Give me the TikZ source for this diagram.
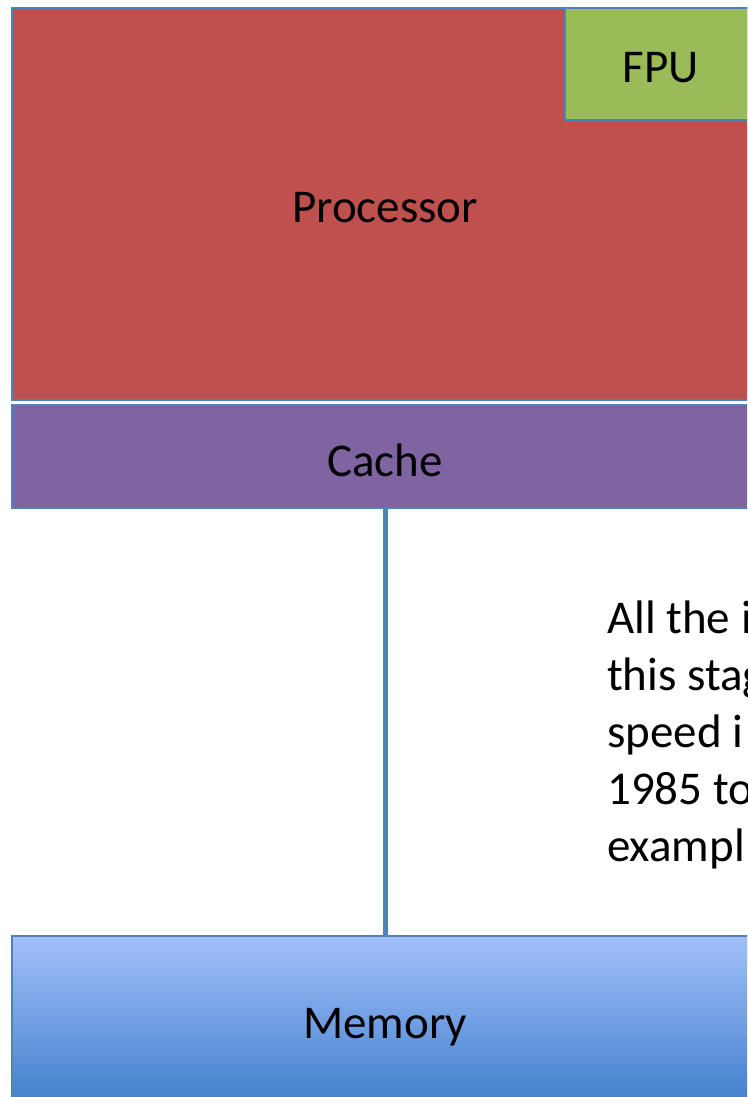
\documentclass[tikz,border=0pt]{standalone}
\usepackage{fontspec}
\setmainfont{Carlito}
\definecolor{procred}{HTML}{C0504D}
\definecolor{fpugreen}{HTML}{9BBB59}
\definecolor{cachepurple}{HTML}{8064A2}
\definecolor{edgeblue}{HTML}{4F81BD}
\definecolor{memtop}{HTML}{A2C0FA}
\definecolor{membottom}{HTML}{3E7DCB}
\begin{document}
\begin{tikzpicture}[x=1pt,y=-1pt,
    box/.style={draw=edgeblue, line width=1.5pt, inner sep=0pt},
    lbl/.style={inner sep=0pt, font=\fontsize{47}{57}\selectfont},
    link/.style={draw=edgeblue, line width=5pt}]
  \useasboundingbox (0,0) rectangle (747,1097);
  \clip (0,0) rectangle (747,1097);
  % processor with its FPU in the corner
  \node[box, fill=procred, minimum width=746pt, minimum height=392pt] (proc) at (385,204) {};
  \node[box, fill=fpugreen, minimum width=192pt, minimum height=112pt] (fpu) at (661,64) {};
  \node[lbl] (proclabel) at ([yshift=-4pt]proc.center) {Processor};
  \node[lbl] (fpulabel) at ([yshift=-4pt]fpu.center) {FPU};
  % cache under the processor
  \node[box, fill=cachepurple, minimum width=746pt, minimum height=103pt] (cache) at (385,456.5) {};
  \node[lbl] (cachelabel) at ([yshift=-4pt]cache.center) {Cache};
  % main memory
  \node[box, top color=memtop, bottom color=membottom, minimum width=746pt, minimum height=174pt] (memory) at (385,1023) {};
  \node[lbl] (memlabel) at ([yshift=-4pt]memory.center) {Memory};
  \draw[link] (cache) -- (memory);
  % side note
  \node[lbl, anchor=base west, align=left] (note) at (607,861)
    {All the i\\this stag\\speed i\\1985 to\\exampl};
\end{tikzpicture}
\end{document}
